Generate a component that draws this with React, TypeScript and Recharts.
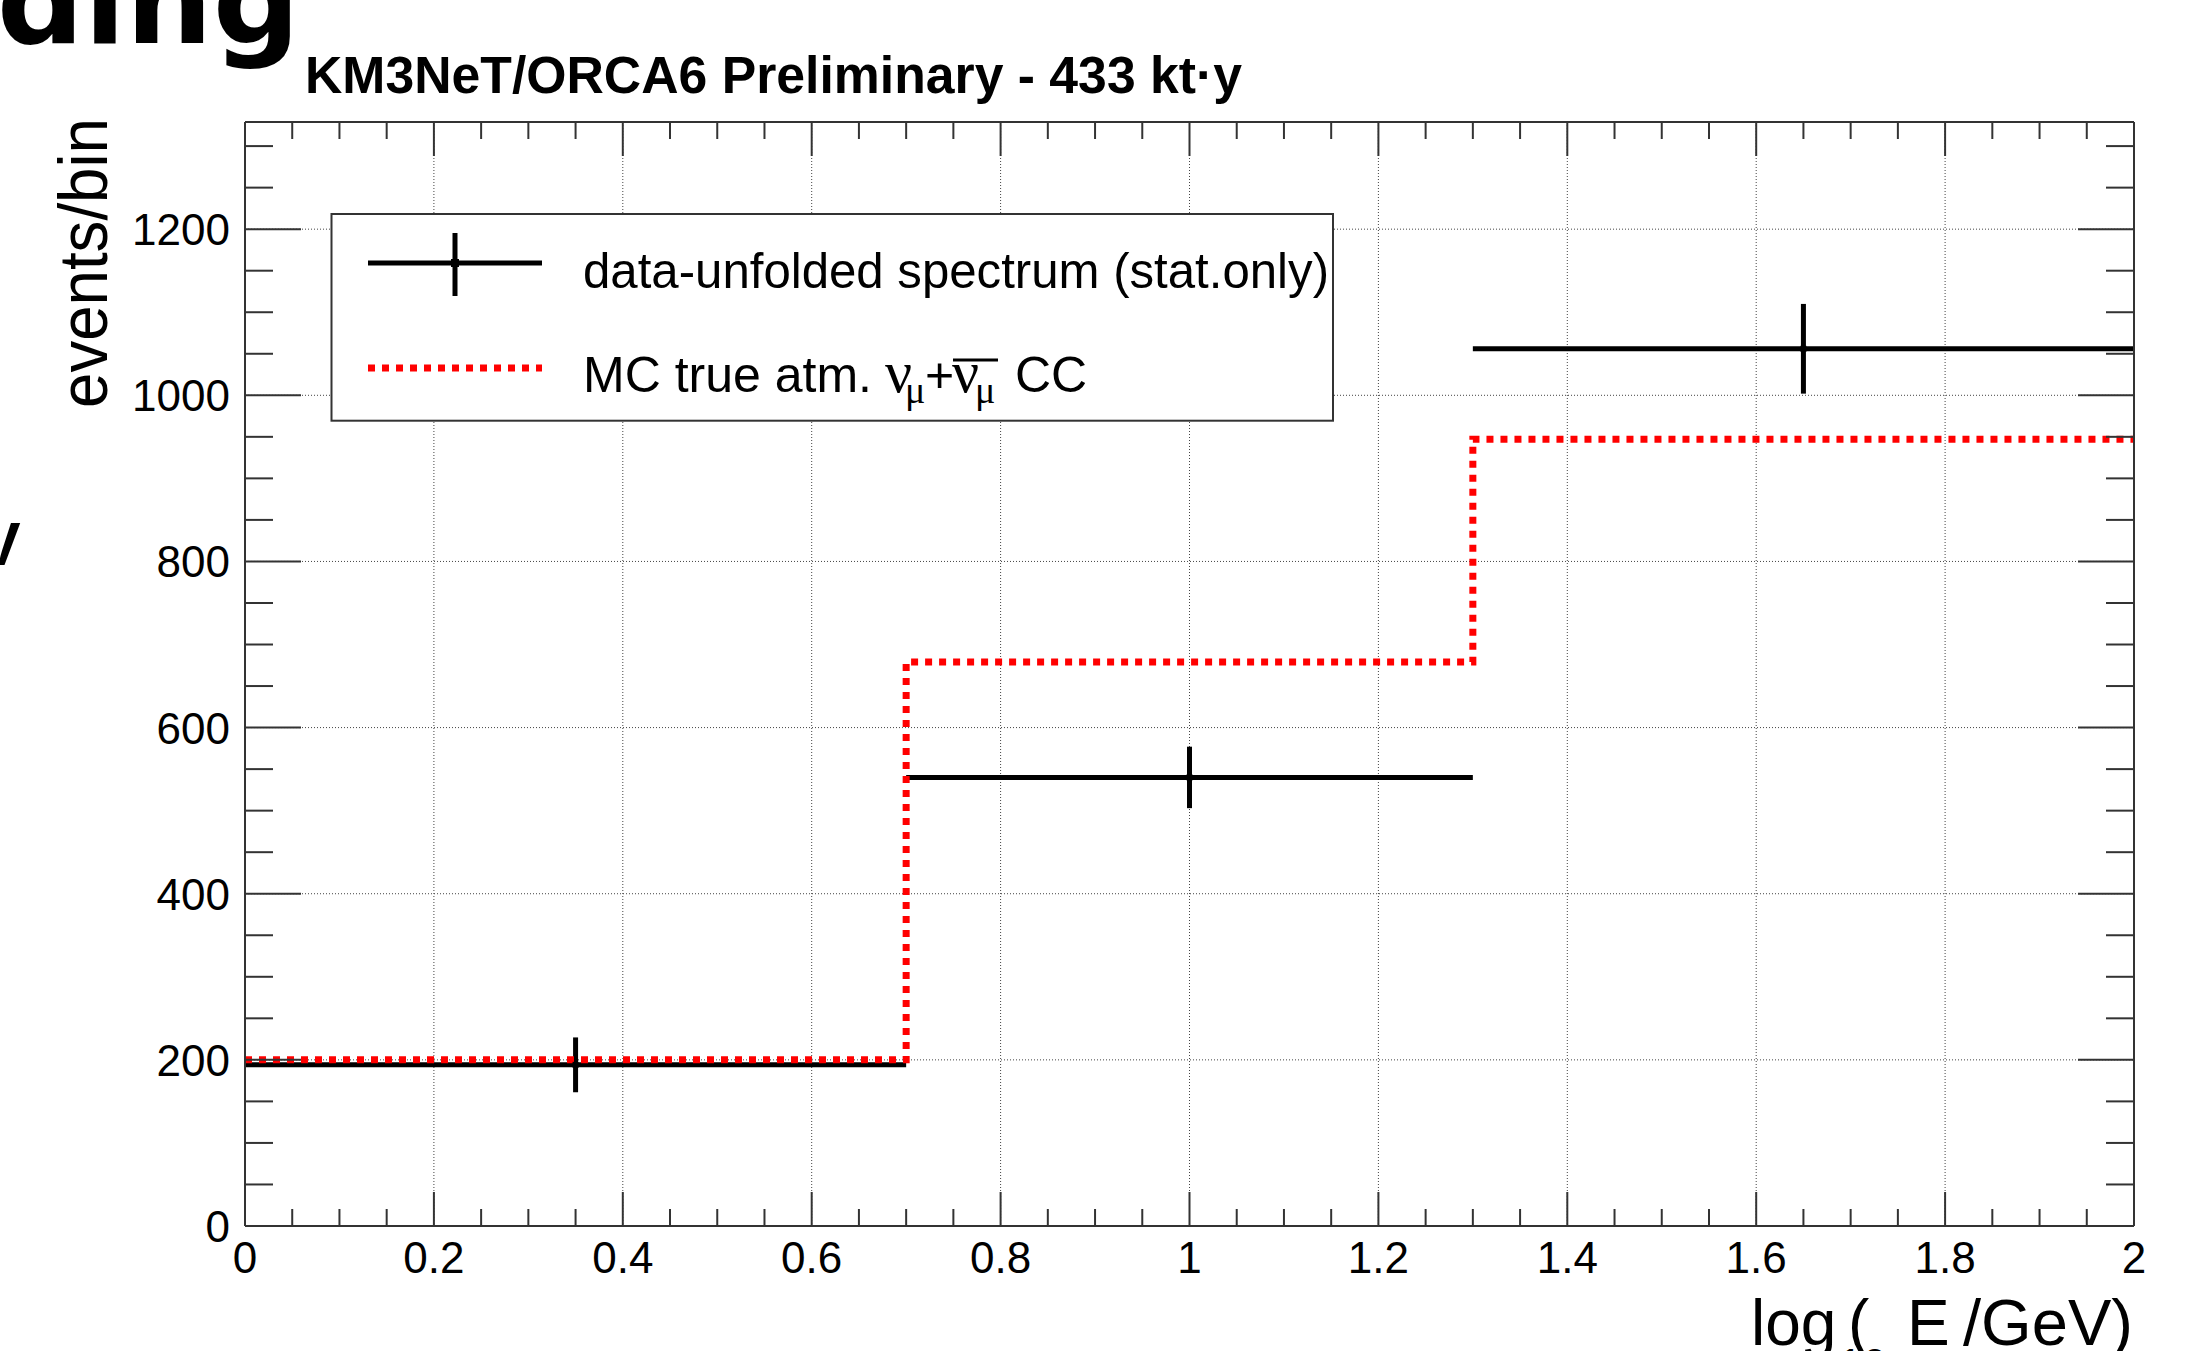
import {
  ComposedChart,
  Line,
  Scatter,
  ErrorBar,
  XAxis,
  YAxis,
  CartesianGrid,
} from "recharts";

// bin edges in log10(E/GeV)
const binEdges = [0, 0.7, 1.3, 2];
// unfolded data (events/bin) and stat errors
const dataValues = [194, 540, 1056];
const dataErrors = [33, 37, 54];
// MC truth per bin
const mcValues = [200, 679, 947];

const xMajorTicks = [0, 0.2, 0.4, 0.6, 0.8, 1, 1.2, 1.4, 1.6, 1.8, 2];
const xMinorTicks = [
  0.05, 0.1, 0.15, 0.25, 0.3, 0.35, 0.45, 0.5, 0.55, 0.65, 0.7, 0.75, 0.85,
  0.9, 0.95, 1.05, 1.1, 1.15, 1.25, 1.3, 1.35, 1.45, 1.5, 1.55, 1.65, 1.7,
  1.75, 1.85, 1.9, 1.95,
];
const yMajorTicks = [0, 200, 400, 600, 800, 1000, 1200];
const yMinorTicks = [
  50, 100, 150, 250, 300, 350, 450, 500, 550, 650, 700, 750, 850, 900, 950,
  1050, 1100, 1150, 1250, 1300,
];

const dataPoints = dataValues.map((y, i) => ({
  x: (binEdges[i] + binEdges[i + 1]) / 2,
  y,
  ex: (binEdges[i + 1] - binEdges[i]) / 2,
  ey: dataErrors[i],
}));

const mcPoints = binEdges.map((x, i) => ({
  x,
  y: mcValues[Math.min(i, mcValues.length - 1)],
}));

const AX = "#333";
const FONT = "'Liberation Sans', Arial, Helvetica, sans-serif";
const SERIF = "'Liberation Serif', 'Times New Roman', serif";

type Side = "bottom" | "top" | "left" | "right";

const makeTick = (side: Side) => (props: any) => {
  const { x, y, payload } = props;
  const v = payload.value;
  const isX = side === "bottom" || side === "top";
  const major = isX ? xMajorTicks.includes(v) : yMajorTicks.includes(v);
  const len = isX ? (major ? 34 : 17) : major ? 56 : 28;
  let line;
  if (side === "bottom") line = <line x1={x} y1={y} x2={x} y2={y - len} />;
  else if (side === "top") line = <line x1={x} y1={y} x2={x} y2={y + len} />;
  else if (side === "left") line = <line x1={x} y1={y} x2={x + len} y2={y} />;
  else line = <line x1={x} y1={y} x2={x - len} y2={y} />;
  return (
    <g>
      <g stroke={AX} strokeWidth={2}>{line}</g>
      {major && side === "bottom" && (
        <text x={x} y={y + 47} textAnchor="middle" fontSize={44} fontFamily={FONT} fill="#000">
          {String(v)}
        </text>
      )}
      {major && side === "left" && (
        <text x={x - 15} y={y + 16} textAnchor="end" fontSize={44} fontFamily={FONT} fill="#000">
          {String(v)}
        </text>
      )}
    </g>
  );
};

const BottomTick = makeTick("bottom");
const TopTick = makeTick("top");
const LeftTick = makeTick("left");
const RightTick = makeTick("right");

const renderMarker = (p: any) => (
  <rect x={p.cx - 3} y={p.cy - 3} width={6} height={6} fill="#000" />
);

export default function App() {
  const xTicks = [...xMajorTicks, ...xMinorTicks];
  const yTicks = [...yMajorTicks, ...yMinorTicks];
  const axisLine = { stroke: AX, strokeWidth: 2 };

  return (
    <div
      style={{
        position: "absolute",
        left: 0,
        top: 0,
        width: 2208,
        height: 1351,
        background: "#fff",
        overflow: "hidden",
      }}
    >
      <ComposedChart
        width={2208}
        height={1351}
        margin={{ top: 0, right: 0, bottom: 0, left: 0 }}
      >
        <CartesianGrid
          xAxisId="b"
          yAxisId="l"
          horizontalValues={yMajorTicks}
          verticalValues={xMajorTicks}
          stroke="#444"
          strokeWidth={1}
          strokeDasharray="1 2"
        />
        <XAxis
          xAxisId="b"
          dataKey="x"
          type="number"
          domain={[0, 2]}
          allowDataOverflow
          ticks={xTicks}
          interval={0}
          height={125}
          tickSize={0}
          tickMargin={0}
          tickLine={false}
          tick={BottomTick}
          axisLine={axisLine}
        />
        <XAxis
          xAxisId="t"
          orientation="top"
          dataKey="x"
          type="number"
          domain={[0, 2]}
          allowDataOverflow
          ticks={xTicks}
          interval={0}
          height={122}
          tickSize={0}
          tickMargin={0}
          tickLine={false}
          tick={TopTick}
          axisLine={axisLine}
        />
        <YAxis
          yAxisId="l"
          type="number"
          domain={[0, 1329]}
          allowDataOverflow
          ticks={yTicks}
          interval={0}
          width={245}
          tickSize={0}
          tickMargin={0}
          tickLine={false}
          tick={LeftTick}
          axisLine={axisLine}
        />
        <YAxis
          yAxisId="r"
          orientation="right"
          type="number"
          domain={[0, 1329]}
          allowDataOverflow
          ticks={yTicks}
          interval={0}
          width={74}
          tickSize={0}
          tickMargin={0}
          tickLine={false}
          tick={RightTick}
          axisLine={axisLine}
        />
        <Scatter
          xAxisId="b"
          yAxisId="l"
          data={dataPoints}
          dataKey="y"
          fill="#000"
          shape={renderMarker}
          isAnimationActive={false}
        >
          <ErrorBar dataKey="ex" direction="x" width={0} stroke="#000" strokeWidth={5} isAnimationActive={false} />
          <ErrorBar dataKey="ey" direction="y" width={0} stroke="#000" strokeWidth={5} isAnimationActive={false} />
        </Scatter>
        <Line
          xAxisId="b"
          yAxisId="l"
          data={mcPoints}
          dataKey="y"
          type="stepAfter"
          stroke="#ff0000"
          strokeWidth={7}
          strokeDasharray="7 7"
          dot={false}
          activeDot={false}
          isAnimationActive={false}
        />
      </ComposedChart>

      <svg
        width={2208}
        height={1351}
        style={{ position: "absolute", left: 0, top: 0, pointerEvents: "none" }}
        fontFamily={FONT}
      >
        {/* bits of the slide behind the plot */}
        <text x={300} y={43} textAnchor="end" fontSize={122} fontWeight="bold" fontFamily="'DejaVu Sans', sans-serif" fill="#000">
          ding
        </text>
        <text x={0} y={565} textAnchor="middle" fontSize={62} fontWeight="bold" fill="#000">
          V
        </text>

        <text x={305} y={93} fontSize={51} fontWeight="bold" textLength={937} lengthAdjust="spacingAndGlyphs" fill="#000">
          KM3NeT/ORCA6 Preliminary - 433 kt·y
        </text>

        <text transform="translate(107,408) rotate(-90)" fontSize={68} textLength={290} lengthAdjust="spacingAndGlyphs" fill="#000">
          events/bin
        </text>

        <text y={1345} fontSize={64} fill="#000">
          <tspan x={1751}>log</tspan>
          <tspan x={1838} y={1380} fontSize={44}>10</tspan>
          <tspan x={1848} y={1345}>(</tspan>
          <tspan x={1907}>E</tspan>
          <tspan x={1944} y={1378} fontSize={44} fontFamily={SERIF}>ν</tspan>
          <tspan x={1963} y={1345} textLength={170} lengthAdjust="spacingAndGlyphs">/GeV)</tspan>
        </text>

        {/* legend */}
        <rect x={331.5} y={214} width={1001.5} height={206.7} fill="#fff" stroke={AX} strokeWidth={2} />
        <line x1={368} y1={263} x2={542} y2={263} stroke="#000" strokeWidth={5} />
        <line x1={455} y1={233} x2={455} y2={296} stroke="#000" strokeWidth={5} />
        <rect x={451} y={259} width={8} height={8} fill="#000" />
        <text x={583} y={288} fontSize={50} textLength={746} lengthAdjust="spacingAndGlyphs" fill="#000">
          data-unfolded spectrum (stat.only)
        </text>

        <line x1={368} y1={368} x2={542} y2={368} stroke="#ff0000" strokeWidth={7} strokeDasharray="7 7" />
        <text y={392} fontSize={50} fill="#000">
          <tspan x={583}>MC true atm. </tspan>
          <tspan x={885} fontFamily={SERIF} fontSize={60}>ν</tspan>
          <tspan x={905} y={403} fontFamily={SERIF} fontSize={38}>μ</tspan>
          <tspan x={925} y={392}>+</tspan>
          <tspan x={952} fontFamily={SERIF} fontSize={60}>ν</tspan>
          <tspan x={975} y={403} fontFamily={SERIF} fontSize={38}>μ</tspan>
          <tspan x={1015} y={392}>CC</tspan>
        </text>
        <line x1={953} y1={360} x2={998} y2={360} stroke="#000" strokeWidth={3} />
      </svg>
    </div>
  );
}
